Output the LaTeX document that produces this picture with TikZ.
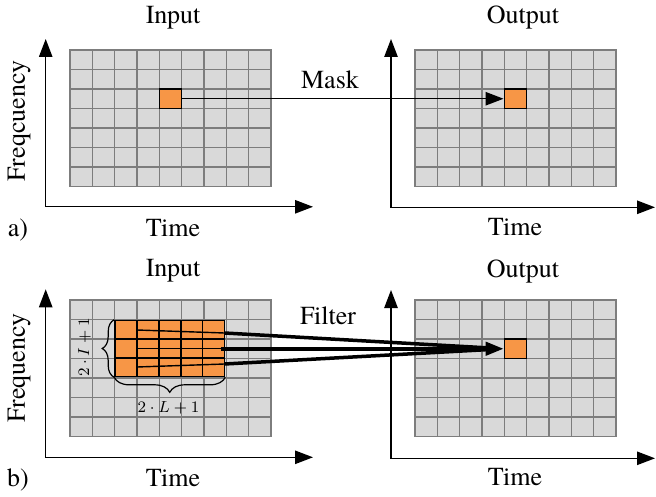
\documentclass[tikz,border=0pt]{standalone}
\usepackage[no-math]{fontspec}
\setmainfont{texgyretermes}[Extension=.otf,UprightFont=*-regular,BoldFont=*-bold,ItalicFont=*-italic,BoldItalicFont=*-bolditalic]
\usetikzlibrary{arrows.meta,decorations.pathreplacing,calc}
\definecolor{cellgray}{RGB}{217,217,217}
\definecolor{gridgray}{RGB}{125,125,125}
\definecolor{orangec}{RGB}{247,150,70}
\def\gcw{22.33}
\def\gch{19.5}
\begin{document}
\begin{tikzpicture}[x=0.5pt,y=-0.5pt,
  tipend/.style={-{Triangle[length=9pt,width=6.7pt]}},
  axis/.style={line width=0.7pt,{Triangle[length=9pt,width=6.7pt]}-{Triangle[length=9pt,width=6.7pt]}},
  gridline/.style={gridgray,line width=0.7pt,line cap=rect},
  ocell/.style={draw=black,fill=orangec,line width=0.8pt,inner sep=0pt,minimum width=11.165pt,minimum height=9.75pt},
  bcell/.style={draw=black,fill=orangec,line width=0.8pt,inner sep=0pt,minimum width=10.95pt,minimum height=9.33pt},
  lbl/.style={font=\rmfamily\fontsize{13}{15}\selectfont,inner sep=0pt,anchor=base},
  mlbl/.style={font=\fontsize{8}{10}\selectfont,inner sep=0pt,anchor=base},
  bundle/.style={line width=1.75pt},
  thinl/.style={line width=0.7pt},
  bracestyle/.style={line width=0.6pt,decorate},
]
\useasboundingbox (0,0) rectangle (656,496);

% grids
\foreach \ox/\oy in {70/50,415/50,70/300,415/300} {
  \fill[cellgray] (\ox,\oy) rectangle ++(9*\gcw,7*\gch);
  \foreach \i in {0,...,9} \draw[gridline] ({\ox+\i*\gcw},\oy) -- ++(0,7*\gch);
  \foreach \j in {0,...,7} \draw[gridline] (\ox,{\oy+\j*\gch}) -- ++(9*\gcw,0);
}

% axes
\coordinate (aAly) at (45.7,39);   \coordinate (aAlo) at (45.7,206.8); \coordinate (aAlx) at (313,206.8);
\coordinate (aAry) at (391,39);    \coordinate (aAro) at (391,207.3);  \coordinate (aArx) at (655,207.3);
\coordinate (aBly) at (45.7,289.3); \coordinate (aBlo) at (45.7,457.3); \coordinate (aBlx) at (313,457.3);
\coordinate (aBry) at (391,290);   \coordinate (aBro) at (391,458.3);  \coordinate (aBrx) at (655,458.3);
\draw[axis] (aAly) -- (aAlo) -- (aAlx);
\draw[axis] (aAry) -- (aAro) -- (aArx);
\draw[axis] (aBly) -- (aBlo) -- (aBlx);
\draw[axis] (aBry) -- (aBro) -- (aBrx);

% orange cells
\node[ocell] (inA) at ({70+4.5*\gcw},{50+2.5*\gch}) {};
\node[ocell] (outA) at ({415+4.5*\gcw},{50+2.5*\gch}) {};
\node[ocell] (outB) at ({415+4.5*\gcw},{300+2.5*\gch}) {};
\foreach \c in {0,...,4} \foreach \r in {0,...,2}
  \node[bcell] (b\c\r) at ({115+(\c+0.5)*21.9},{320.5+(\r+0.5)*18.67}) {};

% mask arrow
\draw[line width=0.7pt,tipend] (inA.east) -- (outA.west);

% filter lines
\coordinate (s1) at (137,330);   \coordinate (e1) at (224.5,333);
\coordinate (s2) at (137,348.5); \coordinate (e2) at (224.5,348.5);
\coordinate (s3) at (137,367);   \coordinate (e3) at (224.5,364);
\coordinate (m2) at (221,348.75);
\draw[thinl] (s1) -- (e1);
\draw[thinl] (s2) -- (e2);
\draw[thinl] (s3) -- (e3);
\draw[bundle,shorten >=6pt] (e1) -- (outB.west);
\draw[bundle,shorten >=6pt] (e3) -- (outB.west);
\draw[bundle,tipend] (m2) -- (outB.west);

% braces
\draw[bracestyle,decoration={brace,amplitude=6pt}] (b02.south west) -- (b00.north west);
\draw[bracestyle,decoration={brace,amplitude=7.5pt}] (b42.south east) -- (b02.south west);
\node[mlbl,rotate=90] (lI) at (89,347.5) {$2\cdot I+1$};
\node[mlbl] (lL) at (168.5,412) {$2\cdot L+1$};

% texts
\node[lbl] (tinA) at (173,23.3) {Input};
\node[lbl] (toutA) at (523,23.5) {Output};
\node[lbl] (ttA1) at (173,236) {Time};
\node[lbl] (ttA2) at (515,235.5) {Time};
\node[lbl] (ta) at (18,236) {a)};
\node[lbl] (tmask) at (330,88.3) {Mask};
\node[lbl,rotate=90] (tfA) at (25,121) {Freqcuency};
\node[lbl] (tinB) at (173,276.7) {Input};
\node[lbl] (toutB) at (523,277) {Output};
\node[lbl] (ttB1) at (173,486) {Time};
\node[lbl] (ttB2) at (515,485.5) {Time};
\node[lbl] (tb) at (18,486) {b)};
\node[lbl] (tfilter) at (328,324) {Filter};
\node[lbl,rotate=90] (tfB) at (25,368) {Frequency};
\end{tikzpicture}
\end{document}
